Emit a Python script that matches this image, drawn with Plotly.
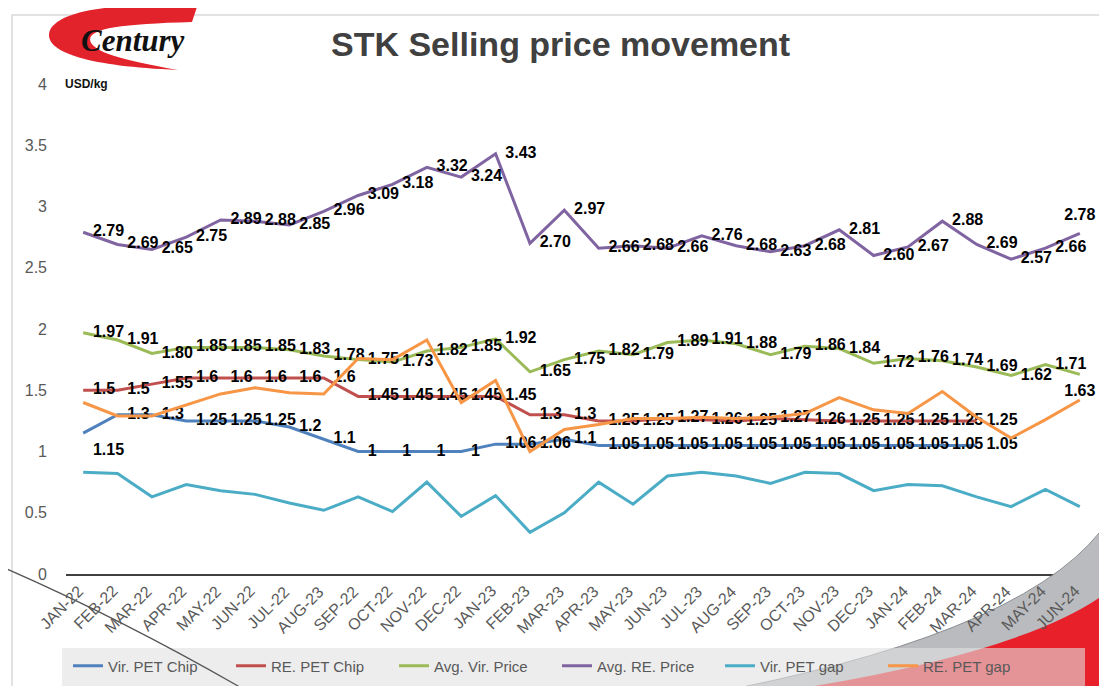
import plotly.graph_objects as go

categories = ["JAN-22", "FEB-22", "MAR-22", "APR-22", "MAY-22", "JUN-22", "JUL-22", "AUG-23",
              "SEP-22", "OCT-22", "NOV-22", "DEC-22", "JAN-23", "FEB-23", "MAR-23", "APR-23",
              "MAY-23", "JUN-23", "JUL-23", "AUG-24", "SEP-23", "OCT-23", "NOV-23", "DEC-23",
              "JAN-24", "FEB-24", "MAR-24", "APR-24", "MAY-24", "JUN-24"]

vir_pet_chip = [1.15, 1.3, 1.3, 1.25, 1.25, 1.25, 1.2, 1.1, 1, 1, 1, 1, 1.06, 1.06, 1.1,
                1.05, 1.05, 1.05, 1.05, 1.05, 1.05, 1.05, 1.05, 1.05, 1.05, 1.05, 1.05]
re_pet_chip = [1.5, 1.5, 1.55, 1.6, 1.6, 1.6, 1.6, 1.6, 1.45, 1.45, 1.45, 1.45, 1.45, 1.3, 1.3,
               1.25, 1.25, 1.27, 1.26, 1.25, 1.27, 1.26, 1.25, 1.25, 1.25, 1.25, 1.25]
avg_vir_price = [1.97, 1.91, 1.80, 1.85, 1.85, 1.85, 1.83, 1.78, 1.75, 1.73, 1.82, 1.85, 1.92,
                 1.65, 1.75, 1.82, 1.79, 1.89, 1.91, 1.88, 1.79, 1.86, 1.84, 1.72, 1.76, 1.74,
                 1.69, 1.62, 1.71, 1.63]
avg_re_price = [2.79, 2.69, 2.65, 2.75, 2.89, 2.88, 2.85, 2.96, 3.09, 3.18, 3.32, 3.24, 3.43,
                2.70, 2.97, 2.66, 2.68, 2.66, 2.76, 2.68, 2.63, 2.68, 2.81, 2.60, 2.67, 2.88,
                2.69, 2.57, 2.66, 2.78]
vir_pet_gap = [0.83, 0.82, 0.63, 0.73, 0.68, 0.65, 0.58, 0.52, 0.63, 0.51, 0.75, 0.47, 0.64,
               0.34, 0.50, 0.75, 0.57, 0.80, 0.83, 0.80, 0.74, 0.83, 0.82, 0.68, 0.73, 0.72,
               0.63, 0.55, 0.69, 0.55]
re_pet_gap = [1.40, 1.29, 1.29, 1.38, 1.47, 1.52, 1.48, 1.47, 1.76, 1.75, 1.91, 1.40, 1.58,
              1.00, 1.18, 1.22, 1.27, 1.27, 1.28, 1.27, 1.28, 1.31, 1.44, 1.34, 1.31, 1.49,
              1.28, 1.11, 1.26, 1.42]

y_ticks = [0, 0.5, 1, 1.5, 2, 2.5, 3, 3.5, 4]
y_tick_text = ["0", "0.5", "1", "1.5", "2", "2.5", "3", "3.5", "4"]

# the page body has an 8px margin, so the figure is drawn 8px right/down of the window origin
OFF = 8
W, H = 1107 - OFF, 686 - OFF
# plot area in window pixels: x 66..1097, y 84..574
ML = 66 - OFF
MR = W - (1097 - OFF)
MT = 84 - OFF
MB = H - (574 - OFF)
PW, PH = W - ML - MR, H - MT - MB
FONT = "Liberation Sans, Arial, sans-serif"


def px(x, y):
    """window pixel -> paper fraction"""
    return (x - OFF - ML) / PW, (H - MB - (y - OFF)) / PH


def path(points, close=True):
    parts = []
    for p in points:
        coords = []
        for j in range(1, len(p), 2):
            a, b = px(p[j], p[j + 1])
            coords.append(f"{a:.4f},{b:.4f}")
        parts.append(p[0] + " " + " ".join(coords))
    s = " ".join(parts)
    if close:
        s += " Z"
    return s


def fmt_general(v):
    return f"{v:g}"


def fmt_two(v):
    return f"{v:.2f}"


LABEL_FONT = dict(family=FONT, size=16, color="#000000", weight="bold")
MS = 14

fig = go.Figure()

blue_pos = ["bottom right"] + ["middle right"] * (len(vir_pet_chip) - 1)
green_pos = ["middle right"] * (len(avg_vir_price) - 1) + ["bottom center"]
purple_pos = ["middle right"] * (len(avg_re_price) - 1) + ["top center"]

fig.add_trace(go.Scatter(
    x=categories[:len(vir_pet_chip)], y=vir_pet_chip, name="Vir. PET Chip",
    mode="lines+markers+text", line=dict(color="#4F81BD", width=3),
    marker=dict(size=MS, color="rgba(0,0,0,0)"),
    text=[fmt_general(v) for v in vir_pet_chip], textposition=blue_pos,
    textfont=LABEL_FONT, cliponaxis=False))
fig.add_trace(go.Scatter(
    x=categories[:len(re_pet_chip)], y=re_pet_chip, name="RE. PET Chip",
    mode="lines+markers+text", line=dict(color="#C0504D", width=3),
    marker=dict(size=MS, color="rgba(0,0,0,0)"),
    text=[fmt_general(v) for v in re_pet_chip], textposition="middle right",
    textfont=LABEL_FONT, cliponaxis=False))
fig.add_trace(go.Scatter(
    x=categories, y=avg_vir_price, name="Avg. Vir. Price",
    mode="lines+markers+text", line=dict(color="#9BBB59", width=3),
    marker=dict(size=MS, color="rgba(0,0,0,0)"),
    text=[fmt_two(v) for v in avg_vir_price], textposition=green_pos,
    textfont=LABEL_FONT, cliponaxis=False))
fig.add_trace(go.Scatter(
    x=categories, y=avg_re_price, name="Avg. RE. Price",
    mode="lines+markers+text", line=dict(color="#8064A2", width=3),
    marker=dict(size=MS, color="rgba(0,0,0,0)"),
    text=[fmt_two(v) for v in avg_re_price], textposition=purple_pos,
    textfont=LABEL_FONT, cliponaxis=False))
fig.add_trace(go.Scatter(
    x=categories, y=vir_pet_gap, name="Vir. PET gap",
    mode="lines", line=dict(color="#4BACC6", width=3)))
fig.add_trace(go.Scatter(
    x=categories, y=re_pet_gap, name="RE. PET gap",
    mode="lines", line=dict(color="#F79646", width=3)))

shapes = []
# light frame
shapes.append(dict(type="path", xref="paper", yref="paper",
                   path=path([("M", 12, 700), ("L", 12, 15), ("L", 1120, 15)], close=False),
                   line=dict(color="#d9d9d9", width=1.5), layer="below"))
# bottom-right gray wedge
shapes.append(dict(type="path", xref="paper", yref="paper",
                   path=path([("M", 728, 690), ("Q", 1040, 628, 1110, 518), ("L", 1110, 690)]),
                   fillcolor="#b9bbbe", line=dict(color="#8a8d90", width=1), layer="above"))
# bottom-right red wedge
shapes.append(dict(type="path", xref="paper", yref="paper",
                   path=path([("M", 790, 690), ("Q", 1030, 652, 1110, 590), ("L", 1110, 690)]),
                   fillcolor="#e8202a", line=dict(width=0), layer="above"))
# legend backdrop
shapes.append(dict(type="path", xref="paper", yref="paper",
                   path=path([("M", 62, 648), ("L", 1085, 648), ("L", 1085, 690), ("L", 62, 690)]),
                   fillcolor="rgba(225,225,225,0.6)", line=dict(width=0), layer="above"))
# bottom-left thin diagonal line
shapes.append(dict(type="path", xref="paper", yref="paper",
                   path=path([("M", 0, 566), ("Q", 120, 618, 245, 690)], close=False),
                   line=dict(color="#555555", width=1.2), layer="above"))
# logo swoosh
shapes.append(dict(type="path", xref="paper", yref="paper",
                   path=path([("M", 198, 4), ("C", 120, 4, 62, 8, 50, 30),
                              ("C", 42, 50, 80, 66, 178, 70),
                              ("C", 122, 60, 92, 52, 90, 40),
                              ("C", 90, 28, 122, 24, 192, 22)]),
                   fillcolor="#e3232b", line=dict(width=0), layer="above"))

annotations = [
    dict(text="<b>STK Selling price movement</b>", xref="paper", yref="paper",
         x=px(560, 44)[0], y=px(560, 44)[1], xanchor="center", yanchor="middle",
         showarrow=False, font=dict(family=FONT, size=34, color="#404040")),
    dict(text="<b><i>Century</i></b>", xref="paper", yref="paper",
         x=px(133, 40)[0], y=px(133, 40)[1], xanchor="center", yanchor="middle",
         showarrow=False, font=dict(family="Liberation Serif, Times New Roman, serif", size=31, color="#111111")),
    dict(text="<b>USD/kg</b>", xref="paper", yref="paper",
         x=px(63, 84)[0], y=px(63, 84)[1], xanchor="left", yanchor="middle",
         showarrow=False, font=dict(family=FONT, size=12, color="#111111")),
]
# category labels (drawn as annotations so that they sit above the corner decoration)
for c in categories:
    annotations.append(dict(text=c, xref="x", yref="paper", x=c, y=px(0, 580)[1],
                            xanchor="right", yanchor="top", xshift=6, textangle=-45,
                            showarrow=False, font=dict(family=FONT, size=16, color="#595959")))

fig.update_layout(
    width=W, height=H,
    margin=dict(l=ML, r=MR, t=MT, b=MB, autoexpand=False),
    paper_bgcolor="#ffffff", plot_bgcolor="rgba(0,0,0,0)",
    showlegend=True,
    legend=dict(orientation="h", xref="container", yref="container",
                x=(68 - OFF) / W, xanchor="left", y=(686 - 666) / H, yanchor="middle",
                font=dict(family=FONT, size=15, color="#595959"),
                bgcolor="rgba(0,0,0,0)", entrywidth=118, entrywidthmode="pixels",
                itemwidth=30, traceorder="normal"),
    shapes=shapes,
    annotations=annotations,
    xaxis=dict(type="category", categoryorder="array", categoryarray=categories,
               showticklabels=False, automargin=False,
               showline=True, linecolor="#404040", linewidth=2, showgrid=False, zeroline=False,
               ticks="", range=[-0.5, len(categories) - 0.5]),
    yaxis=dict(range=[0, 4], tickvals=y_ticks, ticktext=y_tick_text, showgrid=False, zeroline=False,
               showline=False, ticks="", ticklabelstandoff=18, automargin=False,
               tickfont=dict(family=FONT, size=16, color="#595959")),
)

fig.write_html("out.html")
